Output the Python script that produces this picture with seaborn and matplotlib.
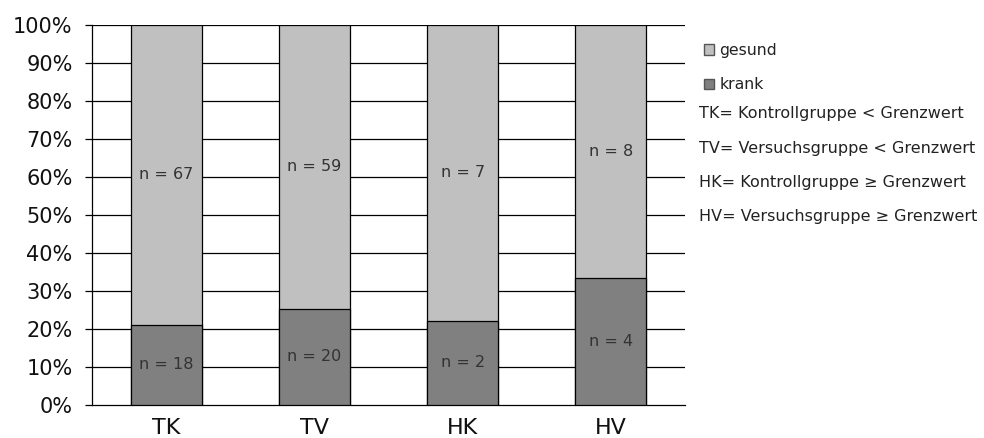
import matplotlib
matplotlib.use("Agg")
import matplotlib.pyplot as plt
from matplotlib.patches import Patch
import seaborn as sns
import pandas as pd
import numpy as np

categories = ["TK", "TV", "HK", "HV"]
krank = [18, 20, 2, 4]
gesund = [67, 59, 7, 8]
series_labels = ["gesund", "krank"]
definitions = [
    "TK= Kontrollgruppe < Grenzwert",
    "TV= Versuchsgruppe < Grenzwert",
    "HK= Kontrollgruppe \u2265 Grenzwert",
    "HV= Versuchsgruppe \u2265 Grenzwert",
]
yticks = [0, 10, 20, 30, 40, 50, 60, 70, 80, 90, 100]

col_gesund = "#C0C0C0"
col_krank = "#808080"

sns.set_theme(style="white")
plt.rcParams["font.family"] = ["DejaVu Sans"]

total = np.array(krank) + np.array(gesund)
pct_krank = np.array(krank) / total * 100
df = pd.DataFrame({"cat": categories, "total": [100.0] * 4, "krank": pct_krank})

fig = plt.figure(figsize=(9.84, 4.38), dpi=100)
ax = fig.add_axes([92 / 984, 1 - 405 / 438, (685 - 92) / 984, (405 - 25) / 438])

sns.barplot(data=df, x="cat", y="total", color=col_gesund, width=0.48,
            edgecolor="black", linewidth=0.9, saturation=1, ax=ax, zorder=3)
sns.barplot(data=df, x="cat", y="krank", color=col_krank, width=0.48,
            edgecolor="black", linewidth=0.9, saturation=1, ax=ax, zorder=3)

for i in range(len(categories)):
    ax.text(i, pct_krank[i] / 2, f"n = {krank[i]}", ha="center", va="center",
            fontsize=11.5, color="#333333", zorder=5)
    ax.text(i, (pct_krank[i] + 100) / 2, f"n = {gesund[i]}", ha="center", va="center",
            fontsize=11.5, color="#333333", zorder=5)

ax.set_xlim(-0.5, len(categories) - 0.5)
ax.set_ylim(0, 100)
ax.set_yticks(yticks)
ax.set_yticklabels([f"{v}%" for v in yticks], fontsize=15, color="#111111")
ax.set_xticks(range(len(categories)))
ax.set_xticklabels(categories, fontsize=16, color="#111111")
ax.set_xticks(np.arange(-0.5, len(categories)), minor=True)
ax.tick_params(axis="x", which="major", length=0, pad=9)
ax.tick_params(axis="x", which="minor", length=5, direction="out", color="black", width=0.9)
ax.tick_params(axis="y", length=5, direction="out", color="black", width=0.9, left=True, pad=9)
ax.set_xlabel("")
ax.set_ylabel("")
for y in yticks[1:]:
    ax.axhline(y, color="black", linewidth=0.9, zorder=1)
for s in ["top", "right"]:
    ax.spines[s].set_visible(False)
for s in ["left", "bottom"]:
    ax.spines[s].set_color("black")
    ax.spines[s].set_linewidth(0.9)

handles = [Patch(facecolor=col_gesund, edgecolor="#555555", label=series_labels[0]),
           Patch(facecolor=col_krank, edgecolor="#555555", label=series_labels[1])]
fig.legend(handles=handles, loc="upper left", bbox_to_anchor=(704 / 984, 1 - 43 / 438),
           frameon=False, fontsize=11.3, handlelength=0.62, handleheight=0.62,
           handletextpad=0.35, labelspacing=1.22, borderpad=0, borderaxespad=0,
           labelcolor="#222222")

ys = [114, 149, 182, 216]
for t, y in zip(definitions, ys):
    fig.text(699 / 984, 1 - y / 438, t, ha="left", va="center", fontsize=11.5, color="#222222")

fig.savefig("out.png", dpi=100)
